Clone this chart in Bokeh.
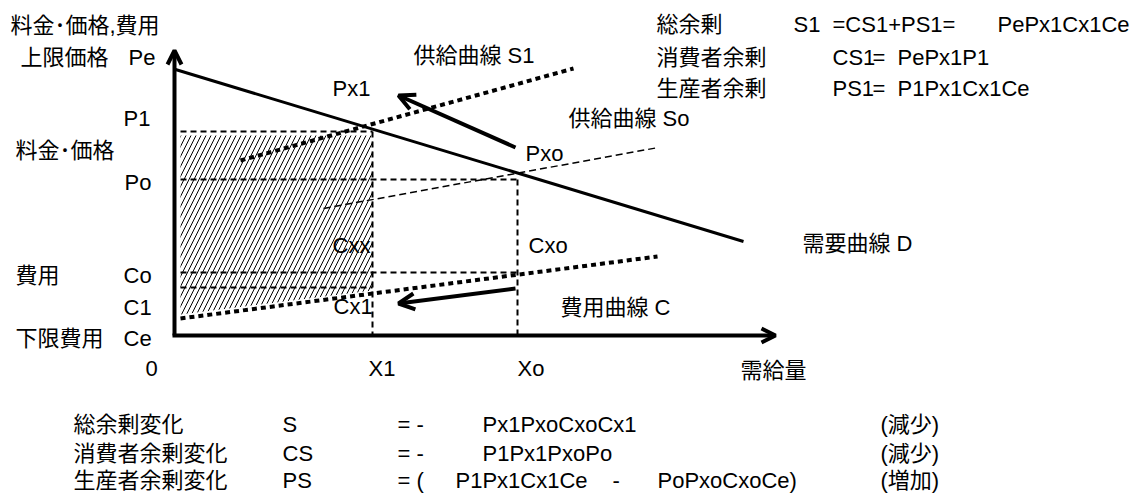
from bokeh.plotting import figure
from bokeh.models import Range1d, Arrow, OpenHead, ColumnDataSource
from bokeh.core.properties import value
from bokeh.embed import file_html
from bokeh.resources import INLINE

# ---- data (quantity Q, price/cost P; origin at axis corner) ----
Pe = 266          # upper limit price (demand intercept)
P1 = 204
Po = 156
Co = 63
C1 = 48
X1 = 198
Xo = 343
axis_q_max = 601
axis_p_max = 285

demand_q = [1, 569]
demand_p = [Pe, 94]
supply_s1_q = [66, 399]
supply_s1_p = [175, 267]
supply_so_q = [149, 484]
supply_so_p = [127, 188]
cost_q = [6, 483]
cost_p = [17, 79]
hatch_q = [6, X1, X1, 6]
hatch_p = [200, 200, 45, 21]
box_left = 6
arrow_up = dict(q0=341, p0=188, q1=224, p1=240)
arrow_down = dict(q0=341, p0=47, q1=224, p1=32)

# labels: text, Q, P
lab_text = ["料金･価格,費用", "上限価格", "Pe", "Px1", "P1", "料金･価格", "Po",
            "Cxx", "Cxo", "費用", "Co", "C1", "下限費用", "Ce", "0", "Cx1",
            "X1", "Xo", "需給量", "費用曲線  C", "需要曲線  D", "供給曲線  S1",
            "供給曲線  So", "Pxo",
            "総余剰", "S1", "=CS1+PS1=", "PePx1Cx1Ce",
            "消費者余剰", "CS1", "=", "PePx1P1",
            "生産者余剰", "PS1", "=", "P1Px1Cx1Ce"]
lab_q = [-164, -154, -46, 158, -51, -159, -50,
         158, 354, -159, -51, -51, -159, -51, -29, 159,
         194, 343, 566, 386, 628, 239,
         394, 351,
         482, 619, 658, 823,
         482, 658, 698, 723,
         482, 658, 698, 723]
lab_p = [310, 278, 278, 247, 217, 185, 153,
         90, 90, 60, 60, 28, -3, -3, -33, 29,
         -33, -33, -35, 28, 92, 280,
         217, 182,
         311, 311, 311, 311,
         278, 278, 278, 278,
         247, 247, 247, 247]

# summary table below the chart
sum_rows_p = [-89, -118, -145]
sum_name = ["総余剰変化", "消費者余剰変化", "生産者余剰変化"]
sum_sym = ["S", "CS", "PS"]
sum_eq = ["= -", "= -", "= ("]
sum_expr = ["Px1PxoCxoCx1", "P1Px1PxoPo", "P1Px1Cx1Ce"]
sum_expr_q = [308, 308, 281]
sum_extra = ["", "", "-"]
sum_extra2 = ["", "", "PoPxoCxoCe)"]
sum_note = ["(減少)", "(減少)", "(増加)"]

p = figure(width=1134, height=495, x_range=Range1d(-174, 960), y_range=Range1d(-160, 335),
           output_backend="svg", toolbar_location=None, min_border=0)
p.axis.visible = False
p.grid.visible = False
p.outline_line_color = None
p.background_fill_color = "white"

# hatched area
p.patch(hatch_q, hatch_p, fill_alpha=0, line_alpha=0, hatch_pattern="/",
        hatch_color="black", hatch_weight=1, hatch_scale=10)

# dashed guide lines
dash = dict(line_color="black", line_width=2, line_dash="6 4")
p.line([box_left, X1], [P1, P1], **dash)
p.line([box_left, Xo], [Po, Po], **dash)
p.line([box_left, Xo], [Co, Co], **dash)
p.line([box_left, X1], [C1, C1], **dash)
p.line([X1, X1], [P1, 0], **dash)
p.line([Xo, Xo], [Po, 0], **dash)

# curves
p.line(demand_q, demand_p, line_color="black", line_width=3)
p.line(supply_s1_q, supply_s1_p, line_color="black", line_width=4, line_dash="5 4")
p.line(supply_so_q, supply_so_p, line_color="black", line_width=1.5, line_dash="7 4")
p.line(cost_q, cost_p, line_color="black", line_width=4, line_dash="5 4")

# axes with arrowheads
p.add_layout(Arrow(end=OpenHead(size=14, line_width=4, line_color="black"),
                   x_start=0, y_start=0, x_end=0, y_end=axis_p_max,
                   line_width=4, line_color="black"))
p.add_layout(Arrow(end=OpenHead(size=14, line_width=4, line_color="black"),
                   x_start=-2, y_start=0, x_end=axis_q_max, y_end=0,
                   line_width=4, line_color="black"))

# shift arrows
for a in (arrow_up, arrow_down):
    p.add_layout(Arrow(end=OpenHead(size=16, line_width=4, line_color="black"),
                       x_start=a["q0"], y_start=a["p0"], x_end=a["q1"], y_end=a["p1"],
                       line_width=4, line_color="black"))

font = value("Liberation Sans, Noto Sans CJK JP")
src = ColumnDataSource(dict(t=lab_text, x=lab_q, y=lab_p))
p.text(x="x", y="y", text="t", source=src, text_font=font,
       text_font_size="22px", text_color="black", text_align="left", text_baseline="middle")

cols = [(sum_name, [-101] * 3), (sum_sym, [108] * 3), (sum_eq, [223] * 3),
        (sum_expr, sum_expr_q), (sum_extra, [438] * 3), (sum_extra2, [483] * 3),
        (sum_note, [706] * 3)]
for texts, qs in cols:
    s = ColumnDataSource(dict(t=texts, x=qs, y=sum_rows_p))
    p.text(x="x", y="y", text="t", source=s, text_font=font,
           text_font_size="22px", text_color="black", text_align="left", text_baseline="middle")

open("out.html", "w").write(file_html(p, INLINE))
